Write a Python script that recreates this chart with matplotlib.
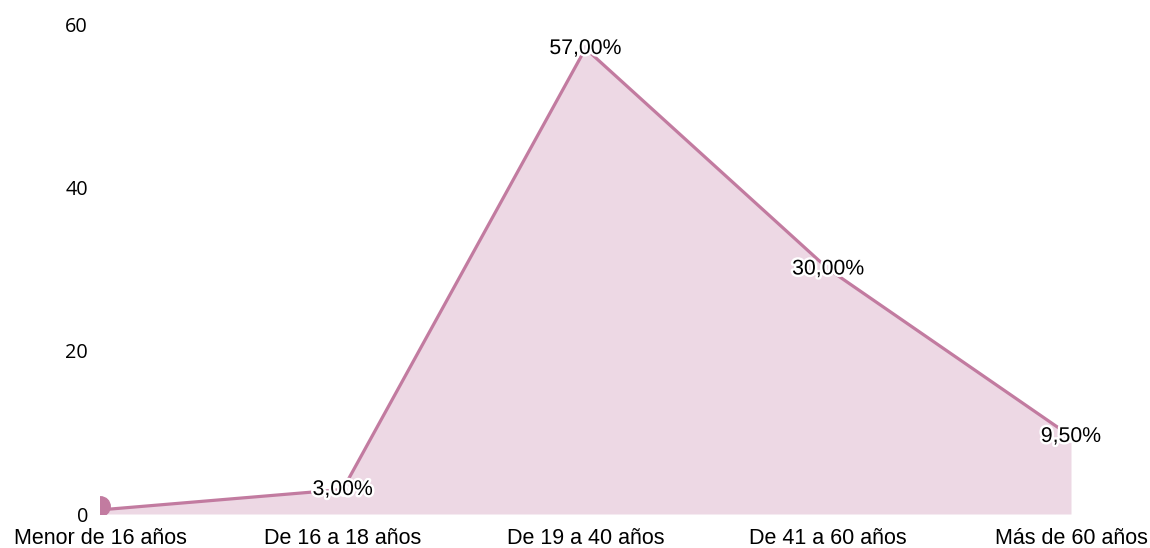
import matplotlib
matplotlib.use("Agg")
from matplotlib import pyplot as plt
import matplotlib.patheffects as pe

categorias = ["Menor de 16 años", "De 16 a 18 años", "De 19 a 40 años",
              "De 41 a 60 años", "Más de 60 años"]
valores = [0.5, 3.0, 57.0, 30.0, 9.5]
etiquetas = ["", "3,00%", "57,00%", "30,00%", "9,50%"]
yticks = [0, 20, 40, 60]

linea = "#C27BA0"
relleno = "#EDD8E4"

fig = plt.figure(figsize=(11.5, 5.48), dpi=100)
ax = fig.add_axes([100 / 1150, 34 / 548, (1071 - 100) / 1150, 490 / 548])

x = list(range(len(categorias)))
ax.fill_between(x, valores, 0, color=relleno, lw=0, zorder=1)
ax.plot(x, valores, color=linea, lw=2.3, zorder=2, solid_joinstyle="miter")
# punto inicial (recortado por el borde del eje)
ax.plot(x[0], valores[0] + 0.5, "o", ms=14, color=linea, zorder=3)
ax.plot(x[1:], valores[1:], "o", ms=8, mfc=relleno, mec="white", mew=1.2,
        zorder=3, clip_on=False)

for xi, v, t in zip(x, valores, etiquetas):
    if t:
        ax.text(xi, v, t, ha="center", va="center", fontsize=15.3,
                family="Liberation Sans", color="black", zorder=4,
                path_effects=[pe.withStroke(linewidth=3.5, foreground="white")])

ax.set_xlim(0, 4)
ax.set_ylim(0, 60)
ax.set_xticks(x)
ax.set_xticklabels(categorias, fontsize=15.5, family="Liberation Sans")
ax.set_yticks(yticks)
ax.set_yticklabels([str(t) for t in yticks], fontsize=14.3, family="Open Sans")
ax.tick_params(length=0)
ax.tick_params(axis="x", pad=10)
ax.tick_params(axis="y", pad=8.6)
for s in ax.spines.values():
    s.set_visible(False)

fig.savefig("out.png", dpi=100)
